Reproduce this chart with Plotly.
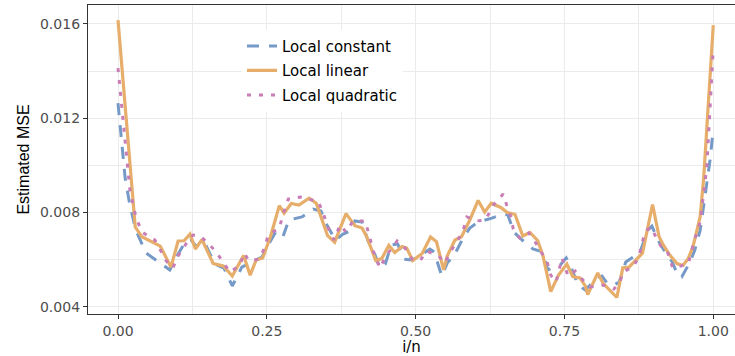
import plotly.graph_objects as go

# ---- data (x = i/n, y = estimated MSE) ----
const_x = [0.000, 0.012, 0.020, 0.030, 0.047, 0.074, 0.087, 0.099, 0.114, 0.123, 0.131, 0.145,
           0.163, 0.178, 0.192, 0.208, 0.225, 0.242, 0.255, 0.265, 0.277, 0.287, 0.309, 0.328,
           0.341, 0.351, 0.365, 0.378, 0.390, 0.398, 0.410, 0.420, 0.430, 0.440, 0.449, 0.459,
           0.470, 0.480, 0.494, 0.509, 0.524, 0.531, 0.544, 0.553, 0.566, 0.578, 0.591, 0.605,
           0.628, 0.647, 0.655, 0.665, 0.679, 0.697, 0.714, 0.722, 0.729, 0.743, 0.753, 0.761,
           0.773, 0.785, 0.805, 0.813, 0.823, 0.833, 0.842, 0.853, 0.863, 0.877, 0.890, 0.897,
           0.907, 0.917, 0.931, 0.941, 0.947, 0.961, 0.969, 0.978, 0.984, 0.989, 0.995, 1.000]
const_y = [0.01264, 0.00946, 0.00831, 0.00725, 0.00628, 0.00577, 0.00556, 0.00615, 0.00679, 0.00683, 0.00657, 0.00674,
           0.00581, 0.00564, 0.00488, 0.00568, 0.00590, 0.00611, 0.00674, 0.00717, 0.00696, 0.00768, 0.00781, 0.00814,
           0.00806, 0.00747, 0.00683, 0.00708, 0.00721, 0.00764, 0.00759, 0.00679, 0.00632, 0.00564, 0.00581, 0.00662,
           0.00666, 0.00602, 0.00598, 0.00619, 0.00645, 0.00632, 0.00530, 0.00585, 0.00624, 0.00683, 0.00734, 0.00759,
           0.00776, 0.00793, 0.00789, 0.00717, 0.00683, 0.00645, 0.00632, 0.00556, 0.00564, 0.00577, 0.00607, 0.00568,
           0.00492, 0.00471, 0.00522, 0.00530, 0.00496, 0.00492, 0.00505, 0.00590, 0.00607, 0.00632, 0.00725, 0.00742,
           0.00683, 0.00641, 0.00590, 0.00530, 0.00526, 0.00590, 0.00641, 0.00725, 0.00831, 0.00929, 0.01031, 0.01158]

linear_x = [0.000, 0.029, 0.040, 0.071, 0.089, 0.101, 0.111, 0.121, 0.130, 0.141, 0.160, 0.177,
            0.192, 0.211, 0.222, 0.232, 0.243, 0.256, 0.271, 0.279, 0.291, 0.304, 0.321, 0.333,
            0.352, 0.364, 0.383, 0.398, 0.410, 0.418, 0.433, 0.443, 0.455, 0.465, 0.477, 0.485,
            0.495, 0.511, 0.525, 0.535, 0.547, 0.553, 0.566, 0.577, 0.591, 0.605, 0.616, 0.627,
            0.643, 0.654, 0.667, 0.680, 0.692, 0.705, 0.714, 0.727, 0.740, 0.754, 0.764, 0.776,
            0.785, 0.789, 0.806, 0.815, 0.838, 0.848, 0.858, 0.871, 0.881, 0.898, 0.909, 0.916,
            0.927, 0.939, 0.949, 0.958, 0.966, 0.978, 0.984, 1.000]
linear_y = [0.01616, 0.00738, 0.00697, 0.00657, 0.00568, 0.00679, 0.00680, 0.00708, 0.00645, 0.00685, 0.00583, 0.00573,
            0.00530, 0.00617, 0.00534, 0.00598, 0.00607, 0.00696, 0.00829, 0.00797, 0.00838, 0.00831, 0.00861, 0.00839,
            0.00702, 0.00674, 0.00795, 0.00744, 0.00734, 0.00696, 0.00596, 0.00604, 0.00660, 0.00630, 0.00655, 0.00649,
            0.00596, 0.00626, 0.00696, 0.00676, 0.00556, 0.00615, 0.00683, 0.00697, 0.00768, 0.00851, 0.00802, 0.00839,
            0.00821, 0.00800, 0.00791, 0.00700, 0.00715, 0.00681, 0.00615, 0.00464, 0.00534, 0.00581, 0.00528, 0.00522,
            0.00488, 0.00452, 0.00543, 0.00499, 0.00439, 0.00565, 0.00567, 0.00602, 0.00627, 0.00834, 0.00697, 0.00662,
            0.00619, 0.00583, 0.00575, 0.00605, 0.00655, 0.00782, 0.00950, 0.01595]

quad_x = [0.000, 0.020, 0.030, 0.040, 0.062, 0.081, 0.092, 0.101, 0.114, 0.126, 0.138, 0.153,
          0.166, 0.176, 0.188, 0.205, 0.212, 0.220, 0.237, 0.247, 0.252, 0.271, 0.277, 0.286,
          0.306, 0.319, 0.336, 0.344, 0.353, 0.363, 0.373, 0.383, 0.395, 0.415, 0.423, 0.428,
          0.440, 0.450, 0.469, 0.482, 0.494, 0.507, 0.519, 0.539, 0.549, 0.559, 0.571, 0.580,
          0.586, 0.603, 0.617, 0.632, 0.647, 0.653, 0.660, 0.664, 0.675, 0.690, 0.702, 0.712,
          0.721, 0.727, 0.736, 0.746, 0.756, 0.768, 0.781, 0.793, 0.815, 0.833, 0.843, 0.848,
          0.865, 0.875, 0.885, 0.895, 0.912, 0.922, 0.932, 0.958, 0.966, 0.978, 0.984, 0.989, 1.000]
quad_y = [0.01413, 0.00895, 0.00781, 0.00717, 0.00683, 0.00594, 0.00564, 0.00615, 0.00666, 0.00704, 0.00700, 0.00666,
          0.00628, 0.00590, 0.00547, 0.00577, 0.00628, 0.00594, 0.00602, 0.00653, 0.00704, 0.00734, 0.00789, 0.00857,
          0.00865, 0.00857, 0.00848, 0.00802, 0.00734, 0.00683, 0.00747, 0.00717, 0.00764, 0.00764, 0.00696, 0.00641,
          0.00564, 0.00615, 0.00679, 0.00649, 0.00602, 0.00594, 0.00636, 0.00615, 0.00585, 0.00636, 0.00683, 0.00725,
          0.00781, 0.00764, 0.00768, 0.00836, 0.00878, 0.00831, 0.00781, 0.00730, 0.00691, 0.00713, 0.00670, 0.00628,
          0.00590, 0.00534, 0.00505, 0.00607, 0.00530, 0.00551, 0.00513, 0.00484, 0.00492, 0.00475, 0.00501, 0.00547,
          0.00568, 0.00611, 0.00717, 0.00738, 0.00657, 0.00641, 0.00564, 0.00581, 0.00662, 0.00759, 0.00882, 0.00988, 0.01497]

x_ticks = [0.0, 0.25, 0.5, 0.75, 1.0]
y_ticks = [0.004, 0.008, 0.012, 0.016]

fig = go.Figure()
fig.add_trace(go.Scatter(x=const_x, y=const_y, mode="lines", name="Local constant",
                         legendgroup="a",
                         line=dict(color="#769AC8", width=3, dash="12px,10px")))
fig.add_trace(go.Scatter(x=linear_x, y=linear_y, mode="lines", name="Local linear",
                         legendgroup="b",
                         line=dict(color="#E6AE6A", width=3.2)))
fig.add_trace(go.Scatter(x=quad_x, y=quad_y, mode="lines", name="Local quadratic",
                         legendgroup="c",
                         line=dict(color="#C97DB6", width=3, dash="4px,8px")))

tick_font = dict(family="DejaVu Sans", size=14, color="#4D4D4D")
grid_c = "#EBEBEB"

fig.update_layout(
    width=735, height=356,
    margin=dict(l=88, r=0, t=5, b=42),
    paper_bgcolor="white", plot_bgcolor="white",
    showlegend=True,
    legend=dict(x=0.238, y=0.92, xanchor="left", yanchor="top",
                bgcolor="white", borderwidth=0,
                font=dict(family="DejaVu Sans", size=15, color="black"),
                traceorder="grouped", tracegroupgap=2, itemwidth=30),
    shapes=[dict(type="rect", xref="paper", yref="paper", layer="below",
                 x0=0.218, x1=0.490, y0=0.654, y1=0.958,
                 fillcolor="white", line=dict(width=0))],
    xaxis=dict(range=[-0.0504, 1.0365], tickvals=x_ticks, tickformat=".2f",
               showgrid=True, gridcolor=grid_c, gridwidth=1.1,
               minor=dict(tickvals=[0.125, 0.375, 0.625, 0.875], showgrid=True,
                          gridcolor=grid_c, gridwidth=0.6, ticks=""),
               zeroline=False, showline=True, linecolor="#333333", linewidth=1.3,
               mirror=True,
               ticks="outside", ticklen=4, tickcolor="#333333", tickwidth=1,
               tickfont=tick_font,
               title=dict(text="i/n", font=dict(family="DejaVu Sans", size=15, color="black"),
                          standoff=3)),
    yaxis=dict(range=[0.00369, 0.016806], tickvals=y_ticks, tickformat=".3f",
               showgrid=True, gridcolor=grid_c, gridwidth=1.1,
               minor=dict(tickvals=[0.006, 0.010, 0.014], showgrid=True,
                          gridcolor=grid_c, gridwidth=0.6, ticks=""),
               zeroline=False, showline=True, linecolor="#333333", linewidth=1.3,
               ticks="outside", ticklen=4, tickcolor="#333333", tickwidth=1,
               tickfont=tick_font,
               title=dict(text="Estimated MSE",
                          font=dict(family="Liberation Sans", size=16, color="black"),
                          standoff=6)),
)

fig.write_html("out.html")
